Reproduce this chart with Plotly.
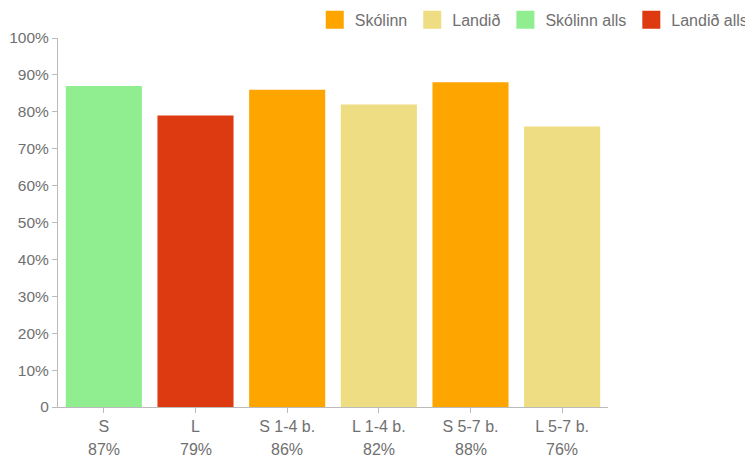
import plotly.graph_objects as go

categories = ["S", "L", "S 1-4 b.", "L 1-4 b.", "S 5-7 b.", "L 5-7 b."]
values = [87, 79, 86, 82, 88, 76]
series = ["Skólinn alls", "Landið alls", "Skólinn", "Landið", "Skólinn", "Landið"]
series_order = ["Skólinn", "Landið", "Skólinn alls", "Landið alls"]
colors = {"Skólinn": "#FFA500", "Landið": "#EEDD82",
          "Skólinn alls": "#90EE90", "Landið alls": "#DD3A12"}
yticks = [0, 10, 20, 30, 40, 50, 60, 70, 80, 90, 100]
yticktext = ["0"] + [f"{v}%" for v in yticks[1:]]

FONT = "Liberation Sans, Arial, sans-serif"
TXT = "#707070"
fig = go.Figure()
for s in series_order:
    xs = [c for c, ss in zip(categories, series) if ss == s]
    ys = [v for v, ss in zip(values, series) if ss == s]
    fig.add_trace(go.Bar(x=xs, y=ys, name=s, marker=dict(color=colors[s], line=dict(width=0)),
                         width=0.83, hoverinfo="x+y", showlegend=False, legendgroup=s))
for s in series_order:
    fig.add_trace(go.Scatter(x=[None], y=[None], mode="markers", name=s, legendgroup=s,
                             marker=dict(symbol="square", size=16, color=colors[s],
                                         line=dict(color=colors[s], width=2)),
                             showlegend=True, hoverinfo="skip"))

for c, v in zip(categories, values):
    fig.add_annotation(x=c, y=0, xref="x", yref="paper", yanchor="middle", yshift=-42,
                       text=f"{v}%", showarrow=False,
                       font=dict(family=FONT, size=16, color=TXT))

fig.update_layout(
    width=745, height=452,
    margin=dict(l=50, r=145, t=30, b=53, autoexpand=False),
    barmode="overlay",
    plot_bgcolor="white", paper_bgcolor="white",
    font=dict(family=FONT, size=15, color=TXT),
    showlegend=True,
    legend=dict(orientation="h", x=1.265, xanchor="right", y=1.049, yanchor="middle",
                traceorder="normal", itemsizing="trace",
                font=dict(family=FONT, size=16, color=TXT),
                bgcolor="rgba(0,0,0,0)"),
    xaxis=dict(categoryorder="array", categoryarray=categories, showline=True,
               linecolor="#BBBBBB", linewidth=1, ticks="outside", ticklen=5,
               tickcolor="#BBBBBB", showgrid=False, zeroline=False,
               tickfont=dict(family=FONT, size=16, color=TXT), fixedrange=True),
    yaxis=dict(range=[0, 100], tickvals=yticks, ticktext=yticktext, showline=True,
               linecolor="#BBBBBB", linewidth=1, ticks="outside", ticklen=5,
               tickcolor="#BBBBBB", showgrid=False, zeroline=False,
               tickfont=dict(family=FONT, size=15.5, color=TXT), fixedrange=True),
)
fig.write_html("out.html")
